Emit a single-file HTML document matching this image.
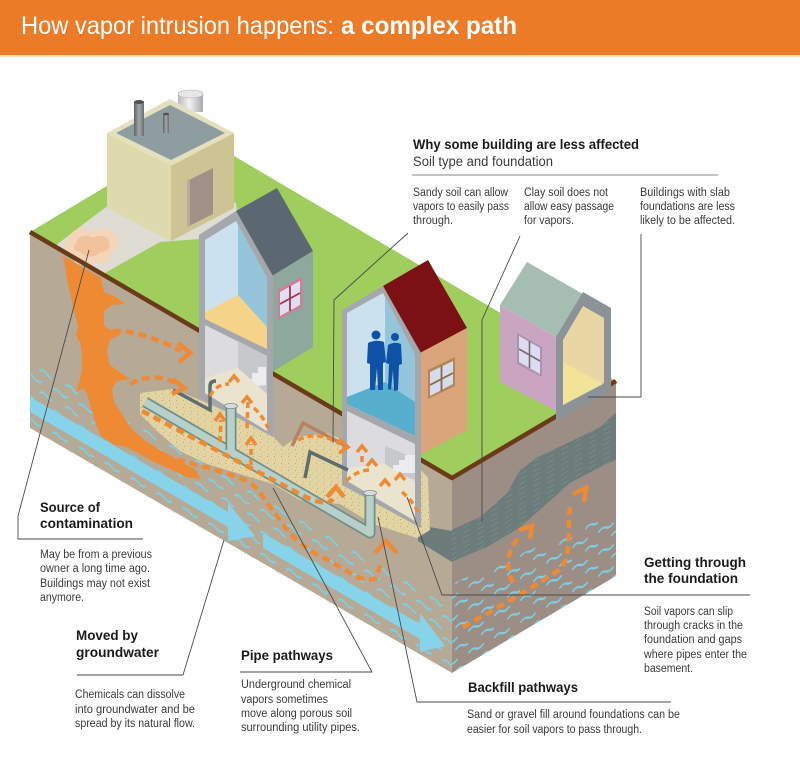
<!DOCTYPE html>
<html><head><meta charset="utf-8"><style>
html,body{margin:0;padding:0;background:#fff;width:800px;height:778px;overflow:hidden}
svg{display:block}
text{font-family:"Liberation Sans",sans-serif}
.h{font-weight:bold;font-size:14px;fill:#1b1b1b}
.b{font-size:11.5px;fill:#3a3a3a}
.ld{stroke:#4a4a4a;stroke-width:0.9;fill:none}
.ar{stroke:#EE8A34;stroke-width:4.5;fill:none;stroke-dasharray:8 5}
.ch{stroke:#EE8A34;stroke-width:4.5;fill:none;stroke-linejoin:miter}
.sa{stroke:#EE8A34;stroke-width:3.5;fill:none;stroke-dasharray:6 4}
.sc{stroke:#EE8A34;stroke-width:3.5;fill:none}
</style></head><body>
<svg width="800" height="778" viewBox="0 0 800 778" xmlns="http://www.w3.org/2000/svg">
<defs>
<pattern id="wv" width="26" height="22" patternUnits="userSpaceOnUse">
<path d="M1 6 q3.5 -3 7 0 t7 0" stroke="#7AD1EB" stroke-width="2" fill="none" stroke-linecap="round"/>
<path d="M14 17 q3.5 -3 7 0 t7 0" stroke="#7AD1EB" stroke-width="2" fill="none" stroke-linecap="round"/>
</pattern>
<pattern id="cl" width="14" height="5" patternUnits="userSpaceOnUse">
<rect width="14" height="5" fill="#6B7C7B"/>
<path d="M1 2 h7" stroke="#7F9392" stroke-width="0.7"/>
</pattern>
<pattern id="sd" width="7" height="7" patternUnits="userSpaceOnUse">
<rect width="7" height="7" fill="#E3D4A3"/>
<circle cx="1.5" cy="1.5" r="0.6" fill="#BCA978"/>
<circle cx="5" cy="4" r="0.5" fill="#C6B582"/>
<circle cx="2.5" cy="5.8" r="0.5" fill="#B8A673"/>
</pattern>
<linearGradient id="chim" x1="0" x2="1"><stop offset="0" stop-color="#5E6266"/><stop offset="0.5" stop-color="#A3A7AB"/><stop offset="1" stop-color="#6A6E72"/></linearGradient>
<linearGradient id="tank" x1="0" x2="1"><stop offset="0" stop-color="#B8BABD"/><stop offset="0.45" stop-color="#F2F2F3"/><stop offset="1" stop-color="#A8AAAD"/></linearGradient>
</defs>

<!-- header -->
<rect x="0" y="0" width="800" height="55" fill="#EC7B27"/>
<rect x="0" y="55" width="800" height="2" fill="#F6DCC6"/>
<text x="21" y="34" font-size="25" fill="#fff" textLength="313" lengthAdjust="spacingAndGlyphs">How vapor intrusion happens:</text>
<text x="341" y="34" font-size="25" font-weight="bold" fill="#fff" textLength="176" lengthAdjust="spacingAndGlyphs">a complex path</text>

<!-- block faces -->
<polygon points="30,232 452,478 452,673 30,428" fill="#B6AA96"/>
<polygon points="452,478 616,381 616,576 452,673" fill="#9C8E84"/>

<!-- left face water -->
<g transform="matrix(1,0.583,0,1,0,0)">
<rect x="30" y="344" width="422" height="67" fill="url(#wv)"/>
</g>
<!-- right face water and clay -->
<g transform="matrix(1,-0.5915,0,1,0,0)">
<polygon points="452,851 616,877 616,940.4 452,940.4" fill="url(#wv)"/>
<polygon points="452,797 480,801 507,793 520,778 537,775 570,779 600,782 616,777 616,824 600,822 570,820 547,827 520,835 487,835 452,829" fill="url(#cl)"/>
</g>
<polygon points="418,525 452,531 452,562 418,541" fill="#6B7C7B"/>

<!-- green top -->
<polygon points="30,232 195,133 616,381 452,478" fill="#9FCD5E"/>

<!-- paved area -->
<polygon points="55,246 103,274 160,242 200,239 238,219 236,203 140,182 90,219" fill="#DEDCD3"/>
<!-- stain -->
<path d="M68,240 C70,228 85,226 92,232 C100,226 112,228 116,236 C122,242 118,250 110,252 C112,260 104,266 96,262 C88,268 76,266 72,258 C64,254 62,246 68,240 Z" fill="#F5D5B8"/>
<path d="M76,243 C78,235 88,234 93,238 C100,234 108,236 109,242 C112,248 106,252 100,252 C96,258 86,258 82,253 C75,252 72,248 76,243 Z" fill="#F1C29C"/>

<!-- sand backfill -->
<polygon points="140,393 173,389 207,403 267,430 283,447 297,437 327,433 343,440 343,484 420,527 421,470 428,478 430,530 417,538 373,524 340,504 300,500 273,484 240,474 207,464 180,451 157,431 140,414" fill="url(#sd)"/>

<!-- plume -->
<path d="M63,256 L101,278 L104,292 L116,297 L125,304 L112,305 L104,311 L104,326 L113,331 L121,334 L110,340 L107,350 L109,364 L118,371 L130,379 L117,381 L112,389 L114,402 L122,414 L131,428 L144,440 L160,450 L178,460 L196,470 L200,479 L186,477 L170,469 L152,461 L138,453 L126,447 L112,444 L102,437 L96,425 L92,411 L88,397 L84,388 L76,392 L80,380 L82,368 L82,356 L80,342 L76,336 L78,326 L74,312 L71,298 L68,284 Z" fill="#EE8A34"/>

<!-- groundwater flow bands -->
<polygon points="30,397 228,512 228,503 255,536 228,541 228,527 30,412" fill="#86D3EA"/>
<polygon points="263,533 420,624 420,613 445,646 420,652 420,639 263,548" fill="#86D3EA"/>

<!-- front edge -->
<polyline points="30,232 452,478 616,381" fill="none" stroke="#6B3A17" stroke-width="4.5" stroke-linejoin="round"/>

<!-- factory -->
<rect x="178" y="94" width="25" height="18" fill="url(#tank)"/>
<ellipse cx="190.5" cy="94" rx="12.5" ry="4" fill="#E6E7E8" stroke="#B0B2B5" stroke-width="0.6"/>
<polygon points="107,133 171,166 171,241 107,208" fill="#DEDAAE"/>
<polygon points="171,166 234,133 234,208 171,241" fill="#CEC393"/>
<polygon points="107,133 170,99 234,133 171,166" fill="#E4E0BE"/>
<polygon points="116,133 170,105 225,133 171,160" fill="#8E9EA0"/>
<polygon points="187,181 213,168 213,214 187,227" fill="#A09088"/>
<polygon points="187,181 190,180 190,226 187,227" fill="#B8AAA2"/>
<rect x="134" y="102" width="10" height="34" fill="url(#chim)"/>
<ellipse cx="139" cy="102" rx="5" ry="2" fill="#4E5256"/>
<rect x="163" y="114" width="6" height="19" fill="url(#chim)"/>
<ellipse cx="166" cy="114" rx="3" ry="1.3" fill="#4E5256"/>

<!-- house 1 -->
<polygon points="236,211 277,188 313,251 272,276" fill="#5B6771"/>
<polygon points="272,276 313,251 313,347 272,372" fill="#8EA89D"/>
<polygon points="278,290 302,277 302,307 278,319" fill="#D77A92"/>
<polygon points="280,292 300,281 300,305 280,316" fill="#DCE0F2"/>
<path d="M290,286 V311 M280,304 L300,293" stroke="#A8324C" stroke-width="1.8"/>
<polygon points="199,235 236,211 273,276 273,437 199,397" fill="#A4A8AC"/>
<polygon points="205,240 236,221 267,278 267,349 205,318" fill="#CBE2EE"/>
<polygon points="238,224 267,278 267,328 238,296" fill="#95C5DA"/>
<polygon points="205,312 238,295 267,327 267,349 205,319" fill="#F5D48A"/>
<polygon points="205,325 267,356 267,431 205,393" fill="#DCDCDF"/>
<polygon points="238,341 267,356 267,398 238,382" fill="#C6C8CB"/>
<path d="M240,385 h6 v-6 h6 v-6 h6 v-6 h8 v18 l-26,3z" fill="#EDEDEF"/>
<polygon points="205,378 238,368 267,394 267,431 205,393" fill="#EAE4CF"/>

<!-- house 2 -->
<polygon points="383,286 428,260 467,328 420,353" fill="#7B1015"/>
<polygon points="420,353 467,328 467,430 420,455" fill="#DAA57A"/>
<polygon points="428,370 455,357 455,386 428,399" fill="#B28658"/>
<polygon points="430,372 453,361 453,384 430,396" fill="#D6DCEF"/>
<path d="M441.5,366 V391 M430,385 L453,373" stroke="#8B6A40" stroke-width="1.8"/>
<polygon points="342,310 383,286 421,353 421,528 342,485" fill="#A4A8AC"/>
<polygon points="347,313 383,293 415,355 415,436 347,404" fill="#CBE2EE"/>
<polygon points="385,297 415,355 415,402 385,382" fill="#95C5DA"/>
<polygon points="347,397 385,382 415,402 415,436 347,404" fill="#58AECD"/>
<polygon points="347,411 415,444 415,521 347,480" fill="#DCDCDF"/>
<polygon points="385,446 415,458 415,480 385,468" fill="#C6C8CB"/>
<path d="M387,470 h6 v-5 h6 v-5 h6 v-5 h10 v18 l-28,0z" fill="#EDEDEF"/>
<polygon points="347,468 385,464 415,483 415,521 347,481" fill="#EAE4CF"/>
<!-- people -->
<g fill="#0D52A6">
<circle cx="376" cy="335" r="4.5"/>
<path d="M368,343 Q376,339 384,342 L386,362 L383,363 L383,390 L378,390 L377,368 L375,390 L370,390 L370,364 L367,363 Z"/>
<circle cx="395" cy="337" r="4"/>
<path d="M388,345 Q395,341 401,344 L402,364 L399,365 L398,390 L394,391 L393,370 L391,390 L388,389 L389,364 L386,363 Z"/>
</g>

<!-- house 3 -->
<polygon points="500,305 527,262 583,294 558,338" fill="#A6BEB2"/>
<polygon points="500,305 558,338 558,412 500,382" fill="#C9A5C1"/>
<polygon points="517,333 542,347 542,377 517,364" fill="#A894AE"/>
<polygon points="519,336 540,348 540,374 519,362" fill="#DCDDF0"/>
<path d="M529.5,341 V368 M519,349 L540,361" stroke="#7A6A70" stroke-width="1.6"/>
<polygon points="556,337 583,292 611,308 611,391 556,421" fill="#8B9399"/>
<polygon points="563,340 583,306 604,318 604,383 563,405" fill="#E8D6A4"/>
<polygon points="563,362 603,384 563,405" fill="#F1E39A"/>

<!-- pipes -->
<path d="M145,402 L370,533 L370,494" fill="none" stroke="#6F8F8A" stroke-width="11" stroke-linejoin="round"/>
<path d="M145,402 L370,533 L370,494" fill="none" stroke="#B7D0CA" stroke-width="7.5" stroke-linejoin="round"/>
<path d="M231,450 V407" stroke="#6F8F8A" stroke-width="11"/>
<path d="M231,451 V407" stroke="#B7D0CA" stroke-width="7.5"/>
<ellipse cx="231" cy="406" rx="6.5" ry="2.6" fill="#D8DADC" stroke="#7F8A8C" stroke-width="0.8"/>
<ellipse cx="370" cy="493" rx="6.5" ry="2.6" fill="#D8DADC" stroke="#7F8A8C" stroke-width="0.8"/>
<path d="M173,390 L210,410 V386 Q210,381 216,381" fill="none" stroke="#5E6E70" stroke-width="3.5"/>
<path d="M292,446 L303,423 L348,447" fill="none" stroke="#B98068" stroke-width="3.5"/>
<path d="M305,478 L310,452 L348,470" fill="none" stroke="#5E6E70" stroke-width="3.5"/>

<!-- orange vapor arrows -->
<path class="ar" d="M113,331 C135,330 160,340 181,351"/>
<polyline class="ch" points="178,343 190,353 179,362"/>
<path class="ar" d="M130,384 C145,376 160,375 176,383"/>
<polyline class="ch" points="173,379 184,388 172,394"/>
<path class="ar" stroke-width="5.5" d="M140,447 C175,462 230,470 252,484 C270,500 285,540 320,556 C345,568 362,585 376,578 L382,560"/>
<polyline class="ch" stroke-width="6" points="375,553 386,541 397,553"/>
<path class="ar" d="M142,411 L300,494 Q326,508 333,499"/>
<polyline class="ch" points="327,497 336,487 344,497"/>
<path class="sa" d="M210,396 Q216,384 229,384"/>
<polyline class="sc" points="229,382 234,376 239,382"/>
<path class="sa" d="M247,428 L248,402"/>
<polyline class="sc" points="242,403 247,397 252,403"/>
<path class="sa" d="M220,442 L221,420"/>
<polyline class="sc" points="215,421 220,414 225,421"/>
<path class="sa" d="M251,465 L251,444"/>
<polyline class="sc" points="246,445 251,438 256,445"/>
<path class="sa" d="M254,408 Q263,416 268,428"/>
<path class="sa" d="M298,440 Q318,430 340,444"/>
<polyline class="sc" points="339,439 348,447 339,453"/>
<path class="sa" d="M346,481 Q358,470 370,470"/>
<polyline class="sc" points="367,466 372,460 377,466"/>
<path class="sa" d="M362,462 L362,452"/>
<polyline class="sc" points="357,452 362,446 367,452"/>
<polyline class="sc" points="380,486 385,480 390,486"/>
<polyline class="sc" points="395,480 400,474 405,480"/>
<path class="sa" d="M402,492 Q412,500 418,512"/>
<path class="ar" d="M463,627 C490,612 530,590 560,569 C574,555 566,522 571,502"/>
<polyline class="ch" points="573,494 586,488 584,502"/>
<path class="ar" d="M513,583 C504,566 508,546 521,536"/>
<polyline class="ch" points="519,530 532,526 530,539"/>

<!-- leader lines -->
<polyline class="ld" points="143,539 18,539 18,516 89,250"/>
<polyline class="ld" points="77,675 183,675 224,540"/>
<polyline class="ld" points="240,672 372,672 273,488"/>
<polyline class="ld" points="671,702 417,702 378,517"/>
<polyline class="ld" points="750,595 442,595 407,497"/>
<polyline class="ld" points="408,233 334,300 333,443"/>
<polyline class="ld" points="520,236 482,320 482,522"/>
<polyline class="ld" points="641,234 641,397 588,397"/>
<line x1="412" y1="175" x2="718" y2="175" stroke="#8a8a8a" stroke-width="1"/>

<!-- top texts -->
<text x="413" y="149" font-size="13.5" font-weight="bold" fill="#1b1b1b" textLength="226" lengthAdjust="spacingAndGlyphs">Why some building are less affected</text>
<text x="413" y="166" font-size="13.5" fill="#3a3a3a" textLength="140" lengthAdjust="spacingAndGlyphs">Soil type and foundation</text>
<text class="b" x="413" y="196" textLength="95" lengthAdjust="spacingAndGlyphs">Sandy soil can allow</text>
<text class="b" x="413" y="210" textLength="96" lengthAdjust="spacingAndGlyphs">vapors to easily pass</text>
<text class="b" x="413" y="224" textLength="40" lengthAdjust="spacingAndGlyphs">through.</text>
<text class="b" x="524" y="196" textLength="84" lengthAdjust="spacingAndGlyphs">Clay soil does not</text>
<text class="b" x="524" y="210" textLength="90" lengthAdjust="spacingAndGlyphs">allow easy passage</text>
<text class="b" x="524" y="224" textLength="50" lengthAdjust="spacingAndGlyphs">for vapors.</text>
<text class="b" x="640" y="196" textLength="90" lengthAdjust="spacingAndGlyphs">Buildings with slab</text>
<text class="b" x="640" y="210" textLength="95" lengthAdjust="spacingAndGlyphs">foundations are less</text>
<text class="b" x="640" y="224" textLength="95" lengthAdjust="spacingAndGlyphs">likely to be affected.</text>

<!-- bottom texts -->
<text class="h" x="40" y="512" textLength="60" lengthAdjust="spacingAndGlyphs">Source of</text>
<text class="h" x="40" y="528" textLength="93" lengthAdjust="spacingAndGlyphs">contamination</text>
<text class="b" x="40" y="558" textLength="112" lengthAdjust="spacingAndGlyphs">May be from a previous</text>
<text class="b" x="40" y="572" textLength="110" lengthAdjust="spacingAndGlyphs">owner a long time ago.</text>
<text class="b" x="40" y="587" textLength="110" lengthAdjust="spacingAndGlyphs">Buildings may not exist</text>
<text class="b" x="40" y="601" textLength="44" lengthAdjust="spacingAndGlyphs">anymore.</text>

<text class="h" x="76" y="640" textLength="62" lengthAdjust="spacingAndGlyphs">Moved by</text>
<text class="h" x="76" y="657" textLength="83" lengthAdjust="spacingAndGlyphs">groundwater</text>
<text class="b" x="75" y="698" textLength="110" lengthAdjust="spacingAndGlyphs">Chemicals can dissolve</text>
<text class="b" x="75" y="713" textLength="120" lengthAdjust="spacingAndGlyphs">into groundwater and be</text>
<text class="b" x="75" y="727" textLength="120" lengthAdjust="spacingAndGlyphs">spread by its natural flow.</text>

<text class="h" x="241" y="660" textLength="92" lengthAdjust="spacingAndGlyphs">Pipe pathways</text>
<text class="b" x="241" y="688" textLength="110" lengthAdjust="spacingAndGlyphs">Underground chemical</text>
<text class="b" x="241" y="703" textLength="87" lengthAdjust="spacingAndGlyphs">vapors sometimes</text>
<text class="b" x="241" y="717" textLength="111" lengthAdjust="spacingAndGlyphs">move along porous soil</text>
<text class="b" x="241" y="731" textLength="119" lengthAdjust="spacingAndGlyphs">surrounding utility pipes.</text>

<text class="h" x="468" y="692" textLength="110" lengthAdjust="spacingAndGlyphs">Backfill pathways</text>
<text class="b" x="467" y="718" textLength="213" lengthAdjust="spacingAndGlyphs">Sand or gravel fill around foundations can be</text>
<text class="b" x="467" y="733" textLength="175" lengthAdjust="spacingAndGlyphs">easier for soil vapors to pass through.</text>

<text class="h" x="644" y="567" textLength="102" lengthAdjust="spacingAndGlyphs">Getting through</text>
<text class="h" x="644" y="583" textLength="94" lengthAdjust="spacingAndGlyphs">the foundation</text>
<text class="b" x="644" y="615" textLength="89" lengthAdjust="spacingAndGlyphs">Soil vapors can slip</text>
<text class="b" x="644" y="629" textLength="99" lengthAdjust="spacingAndGlyphs">through cracks in the</text>
<text class="b" x="644" y="643" textLength="98" lengthAdjust="spacingAndGlyphs">foundation and gaps</text>
<text class="b" x="644" y="658" textLength="103" lengthAdjust="spacingAndGlyphs">where pipes enter the</text>
<text class="b" x="644" y="672" textLength="49" lengthAdjust="spacingAndGlyphs">basement.</text>
</svg>
</body></html>
